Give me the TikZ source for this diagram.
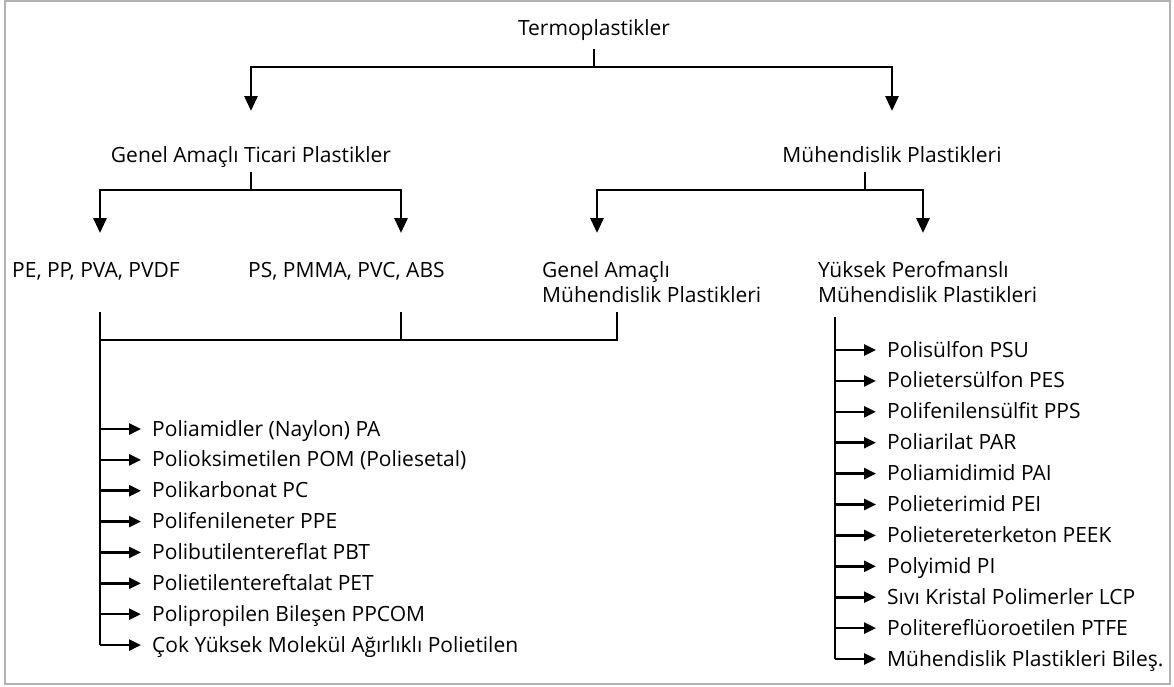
\documentclass[tikz,border=0pt]{standalone}
\usepackage{fontspec}
\setmainfont{Open Sans}
\usetikzlibrary{arrows.meta}
\begin{document}
\begin{tikzpicture}[x=1pt,y=-1pt,
  lbl/.style={inner sep=0pt, font=\fontsize{21}{25}\selectfont},
  conn/.style={line width=2.9pt, black, line join=miter},
  bigarrow/.style={conn, -{Triangle[length=15pt,width=13pt]}},
  itemarrow/.style={line width=2.6pt, -{Triangle[length=12pt,width=11pt]}},
  ]
\useasboundingbox (0,0) rectangle (1174,686);
\draw[gray!60, line width=1.5pt] (5,1) rectangle (1170,684);

% level nodes
\node[lbl, anchor=base] (T) at (594,35) {Termoplastikler};
\node[lbl, anchor=base] (G) at (251,162) {Genel Amaçlı Ticari Plastikler};
\node[lbl, anchor=base] (M) at (892,162) {Mühendislik Plastikleri};
\node[lbl, anchor=base west] (A1) at (12,277) {PE, PP, PVA, PVDF};
\node[lbl, anchor=base west] (A2) at (248,277) {PS, PMMA, PVC, ABS};
\node[lbl, anchor=base west, align=left] (A3) at (542,302) {Genel Amaçlı\\Mühendislik Plastikleri};
\node[lbl, anchor=base west, align=left] (A4) at (818,302) {Yüksek Perofmanslı\\Mühendislik Plastikleri};

% level 1 connectors
\coordinate (t0) at (594,49);
\coordinate (tj) at (594,67);
\coordinate (gA) at (251,111);
\coordinate (mA) at (892,111);
\draw[bigarrow] (t0) -- (tj) -| (gA);
\draw[bigarrow] (tj) -| (mA);

% level 2 connectors
\coordinate (g0) at (251,172);
\coordinate (gj) at (251,190);
\coordinate (a1t) at (100,233);
\coordinate (a2t) at (401,233);
\draw[bigarrow] (g0) -- (gj) -| (a1t);
\draw[bigarrow] (gj) -| (a2t);
\coordinate (m0) at (865,172);
\coordinate (mj) at (865,190);
\coordinate (a3t) at (597,233);
\coordinate (a4t) at (923,233);
\draw[bigarrow] (m0) -- (mj) -| (a3t);
\draw[bigarrow] (mj) -| (a4t);

% merge of the three groups
\coordinate (b1) at (100,312);
\coordinate (b2) at (401,312);
\coordinate (b3) at (617,312);
\coordinate (bj) at (100,340);
\draw[conn] (b3) |- (bj);
\draw[conn] (b2) -- (b2 |- bj);

% left list
\foreach \t [count=\i from 0] in {{Poliamidler (Naylon) PA},{Polioksimetilen POM (Poliesetal)},{Polikarbonat PC},{Polifenileneter PPE},{Polibutilentereflat PBT},{Polietilentereftalat PET},{Polipropilen Bileşen PPCOM},{Çok Yüksek Molekül Ağırlıklı Polietilen}}{
  \node[lbl, anchor=base west] (L\i) at (152,436+30.86*\i) {\t};
  \draw[itemarrow] ([shift={(-52pt,7pt)}]L\i.base west) -- ([shift={(-11pt,7pt)}]L\i.base west);
}
\draw[conn] (b1) -- ([shift={(-52pt,7pt)}]L7.base west);

% right list
\coordinate (r0) at (835,317);
\foreach \t [count=\i from 0] in {{Polisülfon PSU},{Polietersülfon PES},{Polifenilensülfit PPS},{Poliarilat PAR},{Poliamidimid PAI},{Polieterimid PEI},{Polietereterketon PEEK},{Polyimid PI},{Sıvı Kristal Polimerler LCP},{Politereflüoroetilen PTFE},{Mühendislik Plastikleri Bileş.}}{
  \node[lbl, anchor=base west] (R\i) at (887,357+30.9*\i) {\t};
  \draw[itemarrow] ([shift={(-52pt,7pt)}]R\i.base west) -- ([shift={(-11pt,7pt)}]R\i.base west);
}
\draw[conn] (r0) -- ([shift={(-52pt,7pt)}]R10.base west);
\end{tikzpicture}
\end{document}
